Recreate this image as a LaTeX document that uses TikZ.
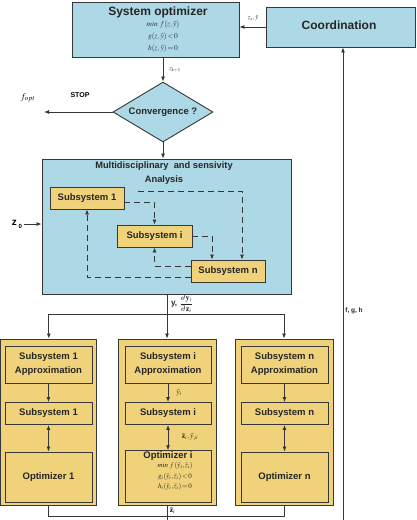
\documentclass[tikz,border=0pt]{standalone}
\usepackage{mathptmx}
\usepackage[no-math]{fontspec}
\setmainfont{Liberation Sans}
\usetikzlibrary{shapes.geometric,arrows.meta}
\definecolor{lblue}{RGB}{173,216,230}
\definecolor{ylw}{RGB}{240,210,122}
\definecolor{lncol}{RGB}{55,55,55}
\begin{document}
\begin{tikzpicture}[x=1pt,y=-1pt,
 box/.style={draw=lncol,line width=0.9pt,rectangle,inner sep=0pt},
 bluebox/.style={box,fill=lblue},
 ybox/.style={box,fill=ylw},
 ttl/.style={font=\bfseries\fontsize{9.5}{14}\selectfont,text=black!85,align=center},
 big/.style={font=\bfseries\fontsize{12}{14}\selectfont,text=black!85},
 frm/.style={font=\fontsize{7.5}{12}\selectfont,text=black!80,inner sep=0.3pt,align=center},
 sml/.style={font=\fontsize{6.5}{7}\selectfont,text=black!85},
 arr/.style={draw=lncol,line width=0.8pt,-{Latex[length=5pt,width=4pt]}},
 darr/.style={draw=lncol,line width=0.8pt,{Latex[length=5pt,width=4pt]}-{Latex[length=5pt,width=4pt]}},
 plain/.style={draw=lncol,line width=0.8pt},
 dsh/.style={draw=lncol,line width=0.8pt,dash pattern=on 6pt off 4pt,-{Latex[length=5pt,width=4pt]}}
]
\useasboundingbox (0,0) rectangle (416,520);

% top boxes
\node[bluebox,minimum width=167pt,minimum height=55pt] (sysopt) at (155.5,29.5) {};
\node[big] (sysoptT) at (158,12) {System optimizer};
\node[frm] (sysf) at (163,37) {$\mathit{min}\ f(z,\tilde{y})$\\$g(z,\tilde{y})\!<\!0$\\$h(z,\tilde{y})\!=\!0$};

\node[bluebox,minimum width=149pt,minimum height=40pt] (coord) at (340.5,27) {};
\node[big] (coordT) at (339,25) {Coordination};

\draw[arr] (coord.west) -- (coord.west -| sysopt.east);
\node[sml] (zsy) at (253,18) {$z_s,\tilde{y}$};

% diamond
\node[diamond,draw=lncol,line width=0.9pt,fill=lblue,aspect=1.67,inner sep=1pt,
  minimum width=100pt,minimum height=60pt,font=\bfseries\fontsize{9.5}{11}\selectfont,text=black!85] (conv) at (163,112) {Convergence ?};
\draw[arr] (conv.north |- sysopt.south) -- (conv.north);
\node[sml] (zk) at (175,70) {$z_{k+1}$};

\coordinate (stopend) at (44,112);
\draw[arr] (conv.west) -- (stopend);
\node[font=\bfseries\fontsize{7}{8}\selectfont] (stop) at (80,95) {STOP};
\node[font=\fontsize{9}{10}\selectfont] (fopt) at (28,98) {$f_{opt}$};

% MDA
\node[bluebox,minimum width=249pt,minimum height=135pt] (mda) at (166.5,226.5) {};
\draw[arr] (conv.south) -- (conv.south |- mda.north);
\node[ttl,font=\bfseries\fontsize{9.3}{14}\selectfont] (mdaT) at (164,173) {Multidisciplinary\ \ and sensivity\\Analysis};

\node[ybox,minimum width=74pt,minimum height=22pt,ttl] (s1) at (87,198) {Subsystem 1};
\node[ybox,minimum width=75pt,minimum height=22pt,ttl] (si) at (154.5,236) {Subsystem i};
\node[ybox,minimum width=74pt,minimum height=22pt,ttl] (sn) at (228,271) {Subsystem n};

\coordinate (dstart) at (138,191);
\draw[dsh] ([yshift=-4pt]s1.east) -| (si.north);
\draw[dsh] (dstart) -| ([xshift=14pt]sn.north);
\draw[dsh] (si.east) -| ([xshift=-16pt]sn.north);
\draw[dsh] ([yshift=5pt]sn.west) -| (si.south);
\draw[dsh] ([yshift=-6pt]sn.west) -| (s1.south);

\node[font=\bfseries\fontsize{10}{11}\selectfont] (z0) at (17,224) {z\raisebox{-0.6ex}{\fontsize{6}{7}\selectfont\ 0}};
\draw[arr] ([xshift=-2pt]z0.east) -- (z0.east -| mda.west);

% columns
\node[ybox,minimum width=96pt,minimum height=166pt] (c1) at (48.8,422) {};
\node[ybox,minimum width=98pt,minimum height=166pt] (ci) at (167,422) {};
\node[ybox,minimum width=98pt,minimum height=166pt] (cn) at (284,422) {};

\draw[arr] (ci.north |- mda.south) -- (ci.north);
\coordinate (split) at (167,314);
\draw[arr] (split -| c1.north) -| (c1.north);
\draw[arr] (split -| c1.north) -| (cn.north);
\node[font=\bfseries\fontsize{8}{9}\selectfont,text=black!85,inner sep=0pt] (yd) at (182,303.5) {y, $\displaystyle\frac{\partial\mathbf{y}_i}{\partial\mathbf{z}_i}$};

% column 1
\node[ybox,ttl,minimum width=87pt,minimum height=37pt] (a1) at (48.5,364.5) {Subsystem 1\\Approximation};
\node[ybox,ttl,minimum width=87pt,minimum height=22pt] (b1) at (48.5,413.5) {Subsystem 1};
\node[ybox,ttl,minimum width=87pt,minimum height=50pt] (o1) at (48.5,477) {Optimizer 1};
\draw[arr] (a1.south) -- (b1.north);
\draw[darr] (b1.south) -- (o1.north);

% column i
\node[ybox,ttl,minimum width=86pt,minimum height=37pt] (ai) at (168,364.5) {Subsystem i\\Approximation};
\node[ybox,ttl,minimum width=86pt,minimum height=22pt] (bi) at (168,413.5) {Subsystem i};
\node[ybox,minimum width=86pt,minimum height=48pt,align=center,text=black!85,
  font=\fontsize{7}{10.5}\selectfont] (oi) at (168,476.5)
  {\raisebox{0pt}[8pt][0pt]{\bfseries\fontsize{9.5}{10}\selectfont Optimizer i}\\[-1.5pt]
   \hspace*{14pt}$\mathit{min}\ f\,(\tilde{y}_i,\bar{z}_i)$\\
   \hspace*{14pt}$g_i(\tilde{y}_i,\bar{z}_i)\!<\!0$\\
   \hspace*{14pt}$h_i(\tilde{y}_i,\bar{z}_i)\!=\!0$\\[3pt]};
\draw[arr] (ai.south) -- (bi.north);
\draw[darr] (bi.south) -- (oi.north);
\node[sml,font=\fontsize{7.5}{8}\selectfont] (yti) at (179,393) {$\tilde{y}_i$};
\node[sml,font=\fontsize{7.5}{8}\selectfont] (zyi) at (190,437) {$\bar{\mathbf{z}}_i,\tilde{y}_{ji}$};

% column n
\node[ybox,ttl,minimum width=87pt,minimum height=37pt] (an) at (284.5,364.5) {Subsystem n\\Approximation};
\node[ybox,ttl,minimum width=87pt,minimum height=22pt] (bn) at (284.5,413.5) {Subsystem n};
\node[ybox,ttl,minimum width=87pt,minimum height=50pt] (on) at (284.5,477) {Optimizer n};
\draw[arr] (an.south) -- (bn.north);
\draw[darr] (bn.south) -- (on.north);

% bottom
\draw[plain] (c1.south) -- ++(0,11) -| (cn.south);
\coordinate (ibot) at (167,520);
\draw[plain] (ci.south) -- (ci.south |- ibot);
\node[font=\fontsize{7.5}{8}\selectfont] (zbi) at (172.5,510.5) {$\bar{\mathbf{z}}_i$};

\coordinate (rbot) at (343,520);
\draw[arr] (rbot) -- (rbot |- coord.south);
\node[font=\bfseries\fontsize{6.5}{8}\selectfont,text=black!85] (fgh) at (354,311) {f, g, h};
\end{tikzpicture}
\end{document}
